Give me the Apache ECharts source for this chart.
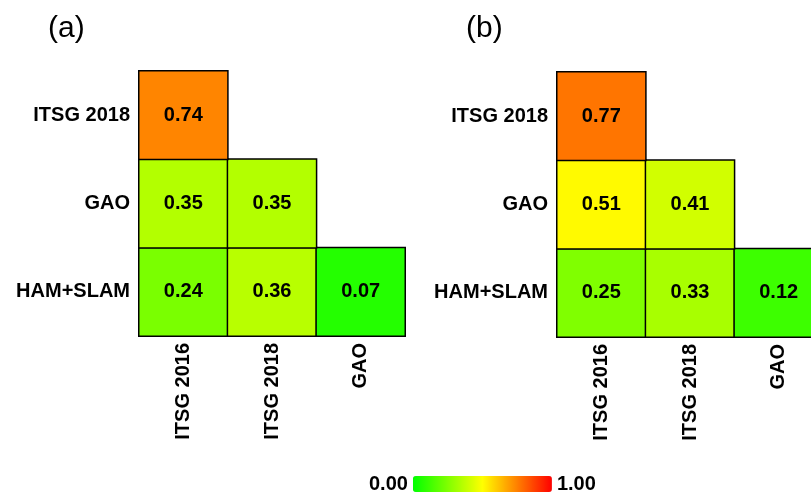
<!DOCTYPE html>
<html>
<head>
<meta charset="utf-8">
<script src="https://cdn.jsdelivr.net/npm/echarts@6/dist/echarts.min.js"></script>
<style>
  html, body { margin: 0; padding: 0; background: #fff; overflow: hidden; width: 811px; height: 495px; }
  /* the right-hand panel runs past the page edge, so the canvas is wider than the page */
  #chart { width: 830px; height: 495px; }
</style>
</head>
<body>
<div id="chart"></div>
<script>
// Product names on each axis (y listed bottom to top)
const colProducts = ['ITSG 2016', 'ITSG 2018', 'GAO'];
const rowProducts = ['HAM+SLAM', 'GAO', 'ITSG 2018'];

// Lower-triangle correlation values, one row per rowProducts entry
const corrA = [
  [0.24, 0.36, 0.07],   // HAM+SLAM
  [0.35, 0.35],         // GAO
  [0.74]                // ITSG 2018
];
const corrB = [
  [0.25, 0.33, 0.12],
  [0.51, 0.41],
  [0.77]
];

const panelTags = ['(a)', '(b)'];
const scaleTicks = ['0.00', '1.00'];

function toCells(rows) {
  const out = [];
  rows.forEach((row, yi) => row.forEach((v, xi) => out.push([xi, yi, v])));
  return out;
}

const labelFont = { fontFamily: 'Liberation Sans, Arial, sans-serif', fontWeight: 'bold', fontSize: 20, color: '#000' };

const grids = [
  { left: 139, top: 71, width: 266, height: 265 },
  { left: 557, top: 72, width: 266, height: 265 }
];

function xAxisFor(i) {
  return {
    type: 'category', gridIndex: i, data: colProducts,
    axisLine: { show: false }, axisTick: { show: false }, splitLine: { show: false },
    axisLabel: Object.assign({ rotate: 90, margin: 7, interval: 0 }, labelFont)
  };
}
function yAxisFor(i) {
  return {
    type: 'category', gridIndex: i, data: rowProducts,
    axisLine: { show: false }, axisTick: { show: false }, splitLine: { show: false },
    axisLabel: Object.assign({ margin: 9, interval: 0 }, labelFont)
  };
}
function seriesFor(i, rows) {
  return {
    type: 'heatmap', xAxisIndex: i, yAxisIndex: i,
    data: toCells(rows),
    itemStyle: { borderColor: '#000', borderWidth: 1.5 },
    label: Object.assign({ show: true, formatter: p => p.value[2].toFixed(2) }, labelFont),
    emphasis: { disabled: true }
  };
}

const chart = echarts.init(document.getElementById('chart'), null, { renderer: 'canvas' });
chart.setOption({
  animation: false,
  backgroundColor: '#fff',
  title: [
    { text: panelTags[0], left: 43, top: 9, textStyle: { fontFamily: 'Liberation Sans Narrow, Liberation Sans, Arial, sans-serif', fontWeight: 'normal', fontSize: 30, color: '#000' } },
    { text: panelTags[1], left: 461, top: 9, textStyle: { fontFamily: 'Liberation Sans Narrow, Liberation Sans, Arial, sans-serif', fontWeight: 'normal', fontSize: 30, color: '#000' } }
  ],
  grid: grids,
  xAxis: [xAxisFor(0), xAxisFor(1)],
  yAxis: [yAxisFor(0), yAxisFor(1)],
  visualMap: {
    type: 'continuous', min: 0, max: 1, seriesIndex: [0, 1],
    orient: 'horizontal', left: 354, top: 459,
    itemWidth: 16, itemHeight: 139, textGap: 5,
    text: [scaleTicks[1], scaleTicks[0]],
    calculable: false, hoverLink: false,
    inRange: { color: ['#00ff00', '#ffff00', '#ff0000'] },
    textStyle: labelFont
  },
  series: [seriesFor(0, corrA), seriesFor(1, corrB)]
});
</script>
</body>
</html>
